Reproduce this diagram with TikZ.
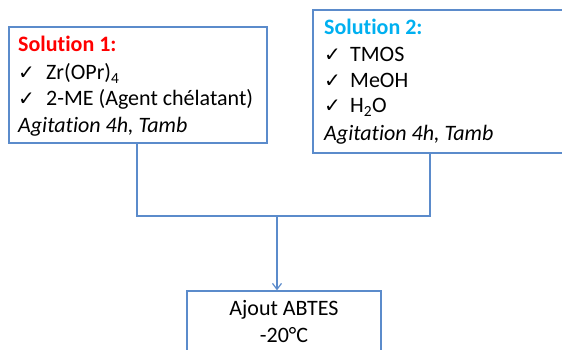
\documentclass[tikz,border=0pt]{standalone}
\usepackage{fontspec}
\setmainfont{Carlito}[Ligatures=NoCommon]
\newfontfamily\symfont{DejaVu Sans}
\usetikzlibrary{arrows.meta}
\definecolor{boxblue}{HTML}{5B8BCB}
\definecolor{solred}{HTML}{FF0000}
\definecolor{solcyan}{HTML}{00B0F0}
\tikzset{
  x=1pt,y=1pt,
  box/.style={draw=boxblue,line width=1.2pt,rectangle,inner sep=0pt},
  conn/.style={draw=boxblue,line width=1.2pt},
  txt/.style={anchor=base west,inner sep=0pt,font=\fontsize{22}{26}\selectfont},
  ctxt/.style={anchor=base,inner sep=0pt,font=\fontsize{22}{26}\selectfont},
  chk/.style={anchor=base west,inner sep=0pt,font=\symfont\fontsize{20}{24}\selectfont},
}
\begin{document}
\begin{tikzpicture}
\useasboundingbox (0,0) rectangle (562,-350);
\clip (0,0) rectangle (562,-350);
% boxes
\node[box,minimum width=258pt,minimum height=116pt] (box1) at (138,-85) {};
\node[box,minimum width=262pt,minimum height=143pt] (box2) at (444,-81.5) {};
\node[box,minimum width=194pt,minimum height=80pt] (box3) at (284,-331) {};
% box1 text
\node[txt,text=solred,font=\bfseries\fontsize{22}{26}\selectfont] (s1) at (18,-52) {Solution 1:};
\node[chk] (c11) at (18,-80) {✓};
\node[txt] (t11) at (46,-80) {Zr(OPr)\textsubscript{4}};
\node[chk] (c12) at (18,-106) {✓};
\node[txt] (t12) at (46,-106) {2-ME (Agent chélatant)};
\node[txt,font=\itshape\fontsize{22}{26}\selectfont] (a1) at (18,-132) {Agitation 4h, Tamb};
% box2 text
\node[txt,text=solcyan,font=\bfseries\fontsize{22}{26}\selectfont] (s2) at (324,-35) {Solution 2:};
\node[chk] (c21) at (324,-62) {✓};
\node[txt] (t21) at (350,-62) {TMOS};
\node[chk] (c22) at (324,-88) {✓};
\node[txt] (t22) at (350,-88) {MeOH};
\node[chk] (c23) at (324,-113) {✓};
\node[txt] (t23) at (350,-113) {H\textsubscript{2}O};
\node[txt,font=\itshape\fontsize{22}{26}\selectfont] (a2) at (324,-140) {Agitation 4h, Tamb};
% box3 text
\node[ctxt] (b31) at (284,-315) {Ajout ABTES};
\node[ctxt] (b32) at (284,-342) {-20°C};
% connectors
\coordinate (j1) at (137,-216);
\coordinate (j2) at (430,-216);
\coordinate (jm) at (277,-216);
\draw[conn] (box1.south -| j1) -- (j1) -- (j2) -- (box2.south -| j2);
\draw[conn,-{Straight Barb[length=6pt,width=9pt]}] (jm) -- (box3.north -| jm);
\end{tikzpicture}
\end{document}
